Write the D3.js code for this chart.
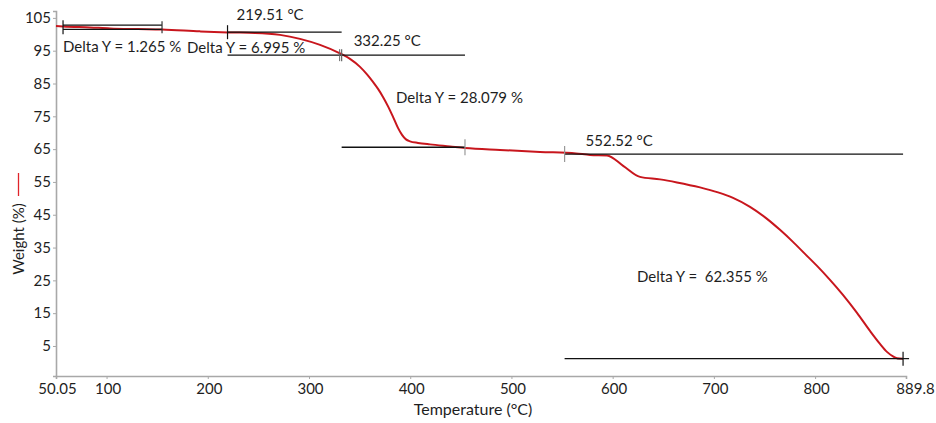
<!DOCTYPE html>
<html>
<head>
<meta charset="utf-8">
<script src="https://cdn.jsdelivr.net/npm/d3@7"></script>
<style>
  html, body { margin: 0; padding: 0; background: #fff; }
  svg { display: block; }
  text { font-family: Lato, "Liberation Sans", sans-serif; fill: #1e1e1e; white-space: pre; }
</style>
</head>
<body>
<svg id="chart" width="936" height="423"></svg>
<script>
// TGA weight-loss curve: temperature (°C) vs weight (%)
const temperature = [50.05, 57.0, 83.6, 103.4, 131.1, 154.8, 192.3, 220.0, 246.7, 271.4, 291.1, 310.9,
  330.6, 340.5, 350.4, 357.3, 363.2, 368.2, 373.1, 378.1, 383.0, 387.9, 391.9, 395.8, 399.8, 407.7,
  419.5, 439.3, 454.1, 488.7, 528.2, 563.8, 577.6, 594.4, 610.7, 627.0, 646.8, 663.5, 686.3,
  704.1, 718.9, 735.7, 752.5, 765.3, 778.1, 790.0, 801.9, 814.7, 827.5, 841.4, 854.2, 864.1, 871.0,
  877.0, 880.9, 886.9];
const weight = [102.56, 102.41, 102.10, 101.80, 101.59, 101.43, 100.89, 100.58, 100.43, 99.82, 98.60, 96.77,
  94.18, 92.50, 90.07, 87.78, 85.49, 83.36, 80.92, 78.03, 74.83, 71.47, 69.34, 67.97, 67.36, 66.90,
  66.45, 65.84, 65.38, 64.77, 64.16, 63.70, 63.24, 63.09, 59.83, 56.54, 55.78, 54.86, 53.34,
  51.81, 50.14, 47.40, 43.74, 40.39, 36.73, 33.07, 29.41, 25.15, 20.57, 15.09, 9.60, 5.64, 3.20,
  1.83, 1.28, 1.10];

// Step-transition analyses: limits (°C), upper level (%), weight change (%)
const stepStart = [57.0, 219.51, 332.25, 552.52];
const stepEnd = [154.8, 332.25, 454.1, 886.9];
const stepTop = [102.77, 100.64, 93.645, 63.5];
const stepDelta = [1.265, 6.995, 28.079, 62.355];
const stepLabels = ["Delta Y = 1.265 %", "Delta Y = 6.995 %", "Delta Y = 28.079 %", "Delta Y =  62.355 %"];
const onsetLabels = ["219.51 °C", "332.25 °C", "552.52 °C"];
const onsetTemps = [219.51, 332.25, 552.52];

const xTicks = [50.05, 100, 200, 300, 400, 500, 600, 700, 800, 889.8];
const yTicks = [5, 15, 25, 35, 45, 55, 65, 75, 85, 95, 105];

const svg = d3.select("#chart");
const x = d3.scaleLinear().domain([50.05, 889.8]).range([56, 906]);
const y = d3.scaleLinear().domain([-4.15, 107.1]).range([376, 11]);

const axisColor = "#a8a8a8";

// axes
const xAxis = svg.append("g").attr("transform", `translate(0,${y(-4.15)})`)
  .call(d3.axisBottom(x).tickValues(xTicks).tickSize(3).tickPadding(4)
    .tickFormat(d => d === 50.05 ? "50.05" : d === 889.8 ? "889.8" : d3.format("d")(d)));
xAxis.select(".domain").attr("stroke", axisColor).attr("stroke-width", 1.6);
xAxis.selectAll(".tick line").attr("stroke", axisColor);
xAxis.selectAll(".tick text").style("font-size", "15px").attr("fill", "#1e1e1e")
  .attr("dx", d => d === 889.8 ? 9 : 1);

const yAxis = svg.append("g").attr("transform", `translate(${x(50.05)},0)`)
  .call(d3.axisLeft(y).tickValues(yTicks).tickSize(3).tickPadding(2));
yAxis.select(".domain").attr("stroke", axisColor).attr("stroke-width", 1.6);
yAxis.selectAll(".tick line").attr("stroke", axisColor);
yAxis.selectAll(".tick text").style("font-size", "15px").attr("fill", "#1e1e1e");

// axis titles
svg.append("text").attr("x", 473).attr("y", 415).attr("text-anchor", "middle")
  .style("font-size", "16px").text("Temperature (°C)");
svg.append("text").attr("transform", "translate(24,239) rotate(-90)")
  .attr("text-anchor", "middle").style("font-size", "15px").text("Weight (%)");
svg.append("line").attr("x1", 18.5).attr("x2", 18.5).attr("y1", 173).attr("y2", 196)
  .attr("stroke", "#e0242a").attr("stroke-width", 1.3);

// weight curve
const pts = temperature.map((t, i) => [t, weight[i]]);
svg.append("path").datum(pts)
  .attr("fill", "none").attr("stroke", "#c8161d").attr("stroke-width", 2)
  .attr("stroke-linejoin", "round")
  .attr("d", d3.line().x(d => x(d[0])).y(d => y(d[1])).curve(d3.curveMonotoneX));

// step analysis level lines
const ann = svg.append("g").attr("stroke", "#111").attr("stroke-width", 1.3);
stepStart.forEach((s, i) => {
  const top = stepTop[i], bot = stepTop[i] - stepDelta[i];
  const x0 = i === 2 ? stepStart[1] : s;
  ann.append("line").attr("x1", x(x0)).attr("x2", x(stepEnd[i])).attr("y1", y(top)).attr("y2", y(top));
  if (i !== 1) {
    ann.append("line").attr("x1", x(s)).attr("x2", x(stepEnd[i])).attr("y1", y(bot)).attr("y2", y(bot));
  }
});

// limit markers
const tick = (t, w, h, color) => svg.append("line")
  .attr("x1", x(t)).attr("x2", x(t)).attr("y1", y(w) - h).attr("y2", y(w) + h)
  .attr("stroke", color).attr("stroke-width", 1.2);
tick(stepStart[0], stepTop[0] - stepDelta[0] / 2, 7, "#111");
tick(stepEnd[0], stepTop[0] - stepDelta[0] / 2, 6, "#333");
tick(stepStart[1], stepTop[1], 7, "#111");
svg.append("line").attr("x1", x(stepStart[2]) - 2).attr("x2", x(stepStart[2]) - 2)
  .attr("y1", y(stepTop[2]) - 6).attr("y2", y(stepTop[2]) + 6).attr("stroke", "#666").attr("stroke-width", 1);
tick(stepStart[2], stepTop[2], 6, "#666");
tick(stepEnd[2], stepTop[2] - stepDelta[2], 8, "#999");
tick(stepStart[3], stepTop[3], 8, "#999");
tick(stepEnd[3], stepTop[3] - stepDelta[3], 7, "#111");
svg.append("line").attr("x1", x(stepEnd[3]) - 6).attr("x2", x(stepEnd[3]) + 6)
  .attr("y1", y(stepTop[3] - stepDelta[3])).attr("y2", y(stepTop[3] - stepDelta[3]))
  .attr("stroke", "#111").attr("stroke-width", 1.2);

// onset temperature labels
const onsetOffset = [[9, -12], [12, -9], [21, -8]];
const onsetLevel = [stepTop[1], stepTop[2], stepTop[3]];
onsetLabels.forEach((lab, i) => {
  svg.append("text").attr("x", x(onsetTemps[i]) + onsetOffset[i][0])
    .attr("y", y(onsetLevel[i]) + onsetOffset[i][1])
    .style("font-size", "15px").text(lab);
});

// weight change labels
const deltaPos = [[63, 52], [187, 53], [396, 103], [637, 282]];
stepLabels.forEach((lab, i) => {
  svg.append("text").attr("x", deltaPos[i][0]).attr("y", deltaPos[i][1])
    .style("font-size", "15px").text(lab);
});
</script>
</body>
</html>
